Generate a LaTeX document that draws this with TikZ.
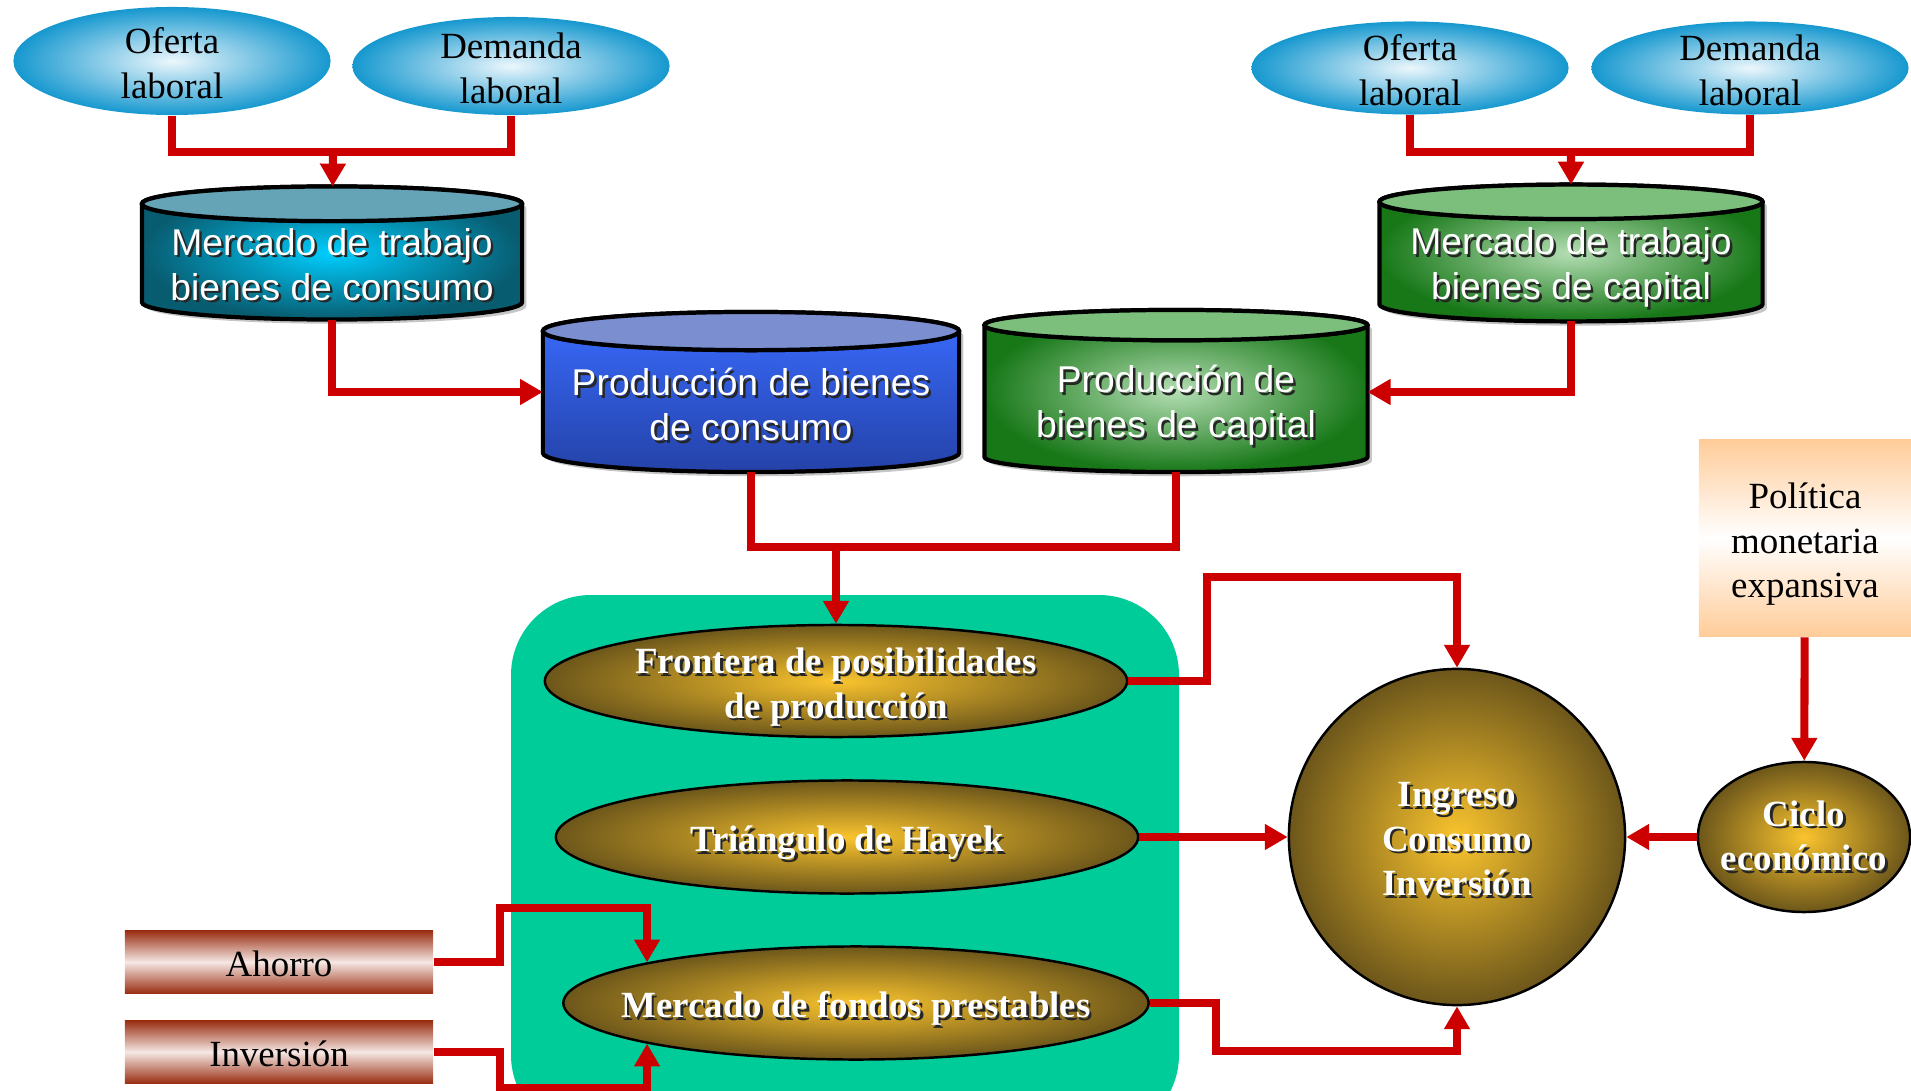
\documentclass[tikz,border=0pt]{standalone}
\usepackage{fontspec}
\setmainfont{Liberation Serif}
\setsansfont{Liberation Sans}
\usepackage{xcolor}
\usepackage{tikz}
\usetikzlibrary{shapes,arrows.meta,positioning,calc,shadows}

\definecolor{rojo}{RGB}{204,0,0}
\definecolor{verdeagua}{RGB}{0,204,153}
\definecolor{celesteC}{RGB}{236,247,252}
\definecolor{celesteE}{RGB}{22,152,207}
\definecolor{oroC}{RGB}{250,196,46}
\definecolor{oroE}{RGB}{108,86,26}
\definecolor{tealC}{RGB}{0,206,255}
\definecolor{tealE}{RGB}{8,92,112}
\definecolor{tealT}{RGB}{100,164,182}
\definecolor{azulA}{RGB}{58,108,255}
\definecolor{azulB}{RGB}{36,66,168}
\definecolor{azulT}{RGB}{122,142,208}
\definecolor{verdeC}{RGB}{180,222,180}
\definecolor{verdeE}{RGB}{24,120,24}
\definecolor{verdeT}{RGB}{124,190,124}
\definecolor{durazno}{RGB}{255,204,153}
\definecolor{ladrillo}{RGB}{154,48,20}
\definecolor{rosado}{RGB}{246,232,228}

\newcommand\fuenteserif{\fontsize{10.5}{12.6}\selectfont}
\newcommand\fuentebold{\bfseries\fontsize{10.5}{12.6}\selectfont}
\newcommand\fuentesans{\sffamily\fontsize{10.6}{12.8}\selectfont}
% white text with a dark shadow
\newcommand\sombra[1]{\rlap{\kern0.7pt\raisebox{-0.7pt}{\textcolor{black!85}{#1}}}#1}
% lighter top end of a cylinder
\newcommand\tapa[2]{%
  \path[fill=#2, draw=black, line width=1.2pt]
    let \p1=(#1.before top), \p2=(#1.after top), \p3=(#1.top),
        \n1={abs(\x2-\x1)/2}, \n2={abs(\y3-\y1)} in
    ({(\x1+\x2)/2},\y1) ellipse [x radius=\n1, y radius=\n2];}

\begin{document}
\begin{tikzpicture}[
  x=0.01cm, y=-0.01cm,
  laboral/.style={ellipse, inner color=celesteC, outer color=celesteE, minimum width=3.17cm, inner sep=-3pt, align=center, font=\fuenteserif, text height=21.3pt},
  cilindro/.style={cylinder, shape border rotate=90, aspect=0.1, anchor=shape center, draw=black, line width=1.2pt, outer sep=0pt, inner ysep=0pt, align=center, text=white, font=\fuentesans, drop shadow={shadow xshift=1.2pt, shadow yshift=-1.2pt, opacity=0.45}},
  dorado/.style={ellipse, draw=black, line width=0.7pt, inner color=oroC, outer color=oroE, inner sep=-3pt, align=center, text=white, font=\fuentebold},
  caja/.style={rectangle, minimum width=3.08cm, minimum height=0.62cm, top color=ladrillo, bottom color=ladrillo, middle color=rosado, font=\fuenteserif, text height=8.6pt},
  linea/.style={draw=rojo, line width=2.3pt},
  flecha/.style={linea, -{Triangle[width=7pt,length=6.5pt]}}
]
\useasboundingbox (0,0) rectangle (1911,1091);
\clip (0,0) rectangle (1911,1091);

% green block
\fill[verdeagua, rounded corners=0.8cm] (511,595) rectangle (1179,1135);

% labour market inputs
\node (ofI) [laboral, minimum height=1.08cm] at (172,61) {Oferta\\laboral};
\node (deI) [laboral, minimum height=0.98cm] at (511,66) {Demanda\\laboral};
\node (ofD) [laboral, minimum height=0.93cm] at (1410,68) {Oferta\\laboral};
\node (deD) [laboral, minimum height=0.93cm] at (1750,68) {Demanda\\laboral};

% cylinders
\node (mercC) [cilindro, minimum width=3.8cm, minimum height=1.33cm, inner color=tealC, outer color=tealE] at (332,253) {\sombra{Mercado de trabajo}\\\sombra{bienes de consumo}};
\node (mercK) [cilindro, minimum width=3.83cm, minimum height=1.33cm, inner color=verdeC, outer color=verdeE, text height=22.4pt] at (1571,253) {\sombra{Mercado de trabajo}\\\sombra{bienes de capital}};
\node (prodC) [cilindro, minimum width=4.16cm, minimum height=1.6cm, top color=azulA, bottom color=azulB] at (751,392) {\sombra{Producción de bienes}\\\sombra{de consumo}};
\node (prodK) [cilindro, minimum width=3.83cm, minimum height=1.62cm, inner color=verdeC, outer color=verdeE, text height=23.2pt] at (1176,391) {\sombra{Producción de}\\\sombra{bienes de capital}};
\tapa{mercC}{tealT}
\tapa{mercK}{verdeT}
\tapa{prodC}{azulT}
\tapa{prodK}{verdeT}

% golden nodes
\node (frontera) [dorado, minimum width=5.82cm, minimum height=1.12cm, text height=24.1pt] at (836,681) {\sombra{Frontera de posibilidades}\\\sombra{de producción}};
\node (hayek) [dorado, minimum width=5.82cm, minimum height=1.13cm, text height=11.4pt] at (847,837) {\sombra{Triángulo de Hayek}};
\node (fondos) [dorado, minimum width=5.85cm, minimum height=1.13cm, inner xsep=-9pt, text height=11.3pt] at (856,1003) {\sombra{Mercado de fondos prestables}};
\node (ingreso) [dorado, minimum width=3.36cm, minimum height=3.36cm, text height=34.1pt] at (1457,837) {\sombra{Ingreso}\\\sombra{Consumo}\\\sombra{Inversión}};
\node (ciclo) [dorado, minimum width=2.12cm, minimum height=1.5cm, inner sep=-5pt] at (1804,837) {\sombra{Ciclo}\\\sombra{económico}};

% policy and savings
\node (politica) [rectangle, minimum width=2.12cm, minimum height=1.97cm, top color=durazno, bottom color=durazno, middle color=white, align=center, font=\fuenteserif, text height=36pt] at (1805,538) {Política\\monetaria\\expansiva};
\node (ahorro) [caja] at (279,962) {Ahorro};
\node (inversion) [caja] at (279,1052) {Inversión};

% junctions
\coordinate (jI) at (333,152);
\coordinate (jD) at (1571,152);
\coordinate (jM) at (836,547);

% connections
\draw [linea] (ofI) |- (jI) -| (deI);
\draw [flecha] (jI) -- (mercC);
\draw [linea] (ofD) |- (jD) -| (deD);
\draw [flecha] (jD) -- (mercK);
\draw [flecha] (mercC) |- (prodC.west |- 0,392);
\draw [flecha] (mercK) |- (prodK.east |- 0,392);
\draw [linea] (prodC) |- (jM) -| (prodK);
\draw [flecha] (jM) -- (frontera);
\draw [flecha] (frontera.east) -| (1207,577) -| (ingreso);
\draw [flecha] (hayek) -- (ingreso);
\draw [flecha] (fondos.east) -| (1216,1051) -| (ingreso);
\draw [flecha] (politica) -- (ciclo);
\draw [flecha] (ciclo) -- (ingreso);
\draw [flecha] (ahorro.east) -| (500,908) -| (fondos.169);
\draw [flecha] (inversion.east) -| (500,1088) -| (fondos.191);

\end{tikzpicture}
\end{document}
